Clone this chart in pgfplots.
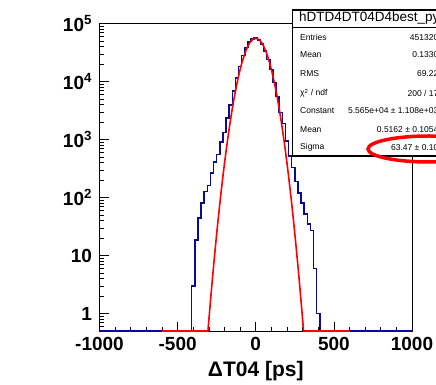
\documentclass[border=0pt]{standalone}
\usepackage{fontspec}
\setmainfont{Liberation Sans}
\usepackage{pgfplots}
\pgfplotsset{compat=1.18}
\definecolor{rootblue}{rgb}{0.04,0.04,0.6}
\begin{document}
\begin{tikzpicture}[x=1pt,y=1pt]
\useasboundingbox (0,0) rectangle (436,385);
\clip (0,0) rectangle (436,385);
\begin{axis}[
  at={(99.5pt,54pt)}, anchor=south west,
  scale only axis, width=312.5pt, height=307.5pt,
  xmin=-1000, xmax=1000, ymode=log, ymin=0.5, ymax=1e5,
  axis line style={black, line width=0.8pt},
  tick align=inside, xtick pos=bottom, ytick pos=left,
  xtick={-1000,-500,0,500,1000}, xticklabels={-1000,-500,0,500,1000},
  minor x tick num=4,
  ytick={1,10,100,1000,10000,100000},
  yticklabels={1,10,10\textsuperscript{2},10\textsuperscript{3},10\textsuperscript{4},10\textsuperscript{5}},
  minor ytick={0.6,0.7,0.8,0.9,2,3,4,5,6,7,8,9,20,30,40,50,60,70,80,90,200,300,400,500,600,700,800,900,2000,3000,4000,5000,6000,7000,8000,9000,20000,30000,40000,50000,60000,70000,80000,90000},
  major tick length=9pt, minor tick length=4.5pt,
  tick style={black, line width=0.6pt},
  ticklabel style={font=\fontsize{19}{19}\selectfont\bfseries},
  xticklabel style={yshift=-3pt},
  yticklabel style={xshift=-4pt},
  xlabel={ΔT04 [ps]},
  xlabel style={font=\fontsize{21}{21}\selectfont\bfseries, at={(axis description cs:0.5,0)}, anchor=center, yshift=-40pt},
  clip=false,
]
\addplot[const plot, rootblue, line width=1.6pt] coordinates {
(-1000,0.5) (-410,3) (-390,18.5) (-370,44) (-350,80) (-330,127) (-310,160) (-290,265) (-270,405) (-250,548) (-230,900) (-210,1320) (-190,2350) (-170,3900) (-150,6800) (-130,11400) (-110,18000) (-90,28000) (-70,38500) (-50,49000) (-30,54500) (-10,57000) (10,52500) (30,44000) (50,33500) (70,24000) (90,16000) (110,9600) (130,5500) (150,2900) (170,1900) (190,950) (210,520) (230,330) (250,190) (270,119) (290,80) (310,52) (330,35) (350,27) (370,6) (390,1) (410,0.5) (1000,0.5)
};
\addplot[red, line width=1.6pt] coordinates {
(-600,0.5) (-306,0.5) (-300,0.784) (-290,1.63) (-280,3.31) (-270,6.54) (-260,12.6) (-250,23.8) (-240,43.7) (-230,78.3) (-220,137) (-210,233.6) (-200,388.4) (-190,630.2) (-180,997.5) (-170,1540) (-160,2321) (-150,3409) (-140,4886) (-130,6831) (-120,9316) (-110,12394) (-100,16086) (-90,20363) (-80,25147) (-70,30293) (-60,35599) (-50,40805) (-40,45626) (-30,49768) (-20,52954) (-10,54964) (0,55650)
(10,54964) (20,52954) (30,49768) (40,45626) (50,40805) (60,35599) (70,30293) (80,25147) (90,20363) (100,16086) (110,12394) (120,9316) (130,6831) (140,4886) (150,3409) (160,2321) (170,1540) (180,997.5) (190,630.2) (200,388.4) (210,233.6) (220,137) (230,78.3) (240,43.7) (250,23.8) (260,12.6) (270,6.54) (280,3.31) (290,1.63) (300,0.784) (306,0.5) (600,0.5)
};
\end{axis}
% stats box
\draw[black, line width=1.3pt, fill=white] (292.7,357.5) rectangle (470,229);
\draw[black, line width=1.3pt, fill=white] (292.7,375) rectangle (470,357.5);
\node[anchor=west, inner sep=0pt, font=\fontsize{13.5}{13.5}\selectfont] at (299,366.5) {hDTD4DT04D4best\_py};
\begin{scope}[every node/.style={inner sep=0pt, font=\fontsize{8.5}{8.5}\selectfont}]
\node[anchor=west] at (300,347.7) {Entries};
\node[anchor=west] at (300,330) {Mean};
\node[anchor=west] at (300,311.7) {RMS};
\node[anchor=west] at (300,291.7) {χ\textsuperscript{2} / ndf};
\node[anchor=west] at (300,274.3) {Constant};
\node[anchor=west] at (300,255) {Mean};
\node[anchor=west] at (300,237.3) {Sigma};
\node[anchor=east] at (438.5,347.7) {451320};
\node[anchor=east] at (438.5,330) {0.1330};
\node[anchor=east] at (438.5,311.7) {69.22};
\node[anchor=east] at (438.5,291.7) {200 / 17};
\node[anchor=east] at (438.5,274.3) {5.565e+04 ± 1.108e+03};
\node[anchor=east] at (438.5,255) {0.5162 ± 0.1054};
\node[anchor=east] at (438.5,237.3) {63.47 ± 0.10};
\end{scope}
\draw[red, line width=3.5pt] (429,236) ellipse [x radius=61, y radius=13];
\end{tikzpicture}
\end{document}
